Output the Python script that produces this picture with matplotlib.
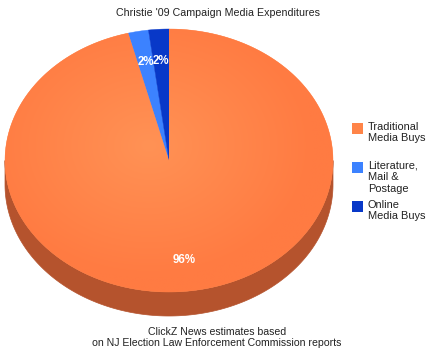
import numpy as np
import matplotlib
matplotlib.use("Agg")
import matplotlib.pyplot as plt
from matplotlib.patches import Polygon, Rectangle
from matplotlib.colors import to_rgb

plt.rcParams['font.family'] = ['Liberation Sans', 'DejaVu Sans']

title = "Christie '09 Campaign Media Expenditures"
categories = ["Traditional\nMedia Buys", "Literature,\nMail &\nPostage", "Online\nMedia Buys"]
values = [96, 2, 2]
top_colors = ["#FF8448", "#3C82FF", "#0838C8"]
side_colors = ["#B5532D", "#2A5BB3", "#06278C"]
footer = "ClickZ News estimates based\non NJ Election Law Enforcement Commission reports"

W, H = 434, 351
fig = plt.figure(figsize=(W / 100, H / 100), dpi=100)
ax = fig.add_axes([0, 0, 1, 1])
ax.set_xlim(0, W)
ax.set_ylim(H, 0)
ax.axis("off")

cx, cy, rx, ry, depth = 169, 160.5, 164, 131.5, 24

def pt(t, r=1.0, dy=0.0):
    return cx + r * rx * np.cos(np.radians(t)), cy - r * ry * np.sin(np.radians(t)) + dy

total = sum(values)
start = 90.0
spans = []
for v in values:
    ang = v / total * 360
    spans.append((start - ang, start))
    start -= ang

# side walls
for (a0, a1), sc in zip(spans, side_colors):
    for k in range(-2, 2):
        lo = max(a0, 180 + 360 * k)
        hi = min(a1, 360 + 360 * k)
        if hi > lo:
            t = np.linspace(lo, hi, 200)
            xs, ys = pt(t)
            poly = list(zip(xs, ys)) + list(zip(xs[::-1], (ys + depth)[::-1]))
            ax.add_patch(Polygon(poly, closed=True, facecolor=sc, edgecolor=sc, lw=0.5))

# top faces
for i, ((a0, a1), tc) in enumerate(zip(spans, top_colors)):
    t = np.linspace(a0, a1, 400)
    xs, ys = pt(t)
    poly = Polygon([(cx, cy)] + list(zip(xs, ys)), closed=True,
                   facecolor=tc, edgecolor=tc, lw=0.3)
    ax.add_patch(poly)
    if i == 0:
        gx, gy = np.meshgrid(np.linspace(0, W, 300), np.linspace(0, H, 240))
        d = np.sqrt(((gx - cx + 20) / rx) ** 2 + ((gy - cy + 15) / ry) ** 2)
        d = np.clip(d, 0, 1)[..., None]
        c_in = np.array(to_rgb("#FF9255"))
        c_out = np.array(to_rgb("#FF7B42"))
        img = c_in * (1 - d) + c_out * d
        im = ax.imshow(img, extent=(0, W, H, 0), interpolation="bilinear", zorder=1.5)
        im.set_clip_path(poly)
        ax.set_xlim(0, W)
        ax.set_ylim(H, 0)
        ax.set_aspect("auto")

# percentage labels
for (a0, a1), v in zip(spans, values):
    mid = (a0 + a1) / 2
    x, y = pt(mid, 0.76)
    ax.text(x, y, f"{v}%", color="white", fontsize=8.3, fontweight="bold",
            ha="center", va="center", zorder=3)

ax.text(W / 2 + 1, 13, title, ha="center", va="center", fontsize=7.7, color="#222222")
ax.text(W / 2, 337.5, footer, ha="center", va="center", fontsize=7.6, color="#222222",
        linespacing=1.2)

# legend
leg_y = [128, 167, 206]
for lab, col, y in zip(categories, top_colors, leg_y):
    ax.add_patch(Rectangle((352, y - 5.5), 11, 11, facecolor=col, edgecolor="none"))
    ax.text(368, y - 6.5, lab, ha="left", va="top", fontsize=7.9, color="#222222",
            linespacing=1.2)

fig.savefig("out.png", dpi=100)
